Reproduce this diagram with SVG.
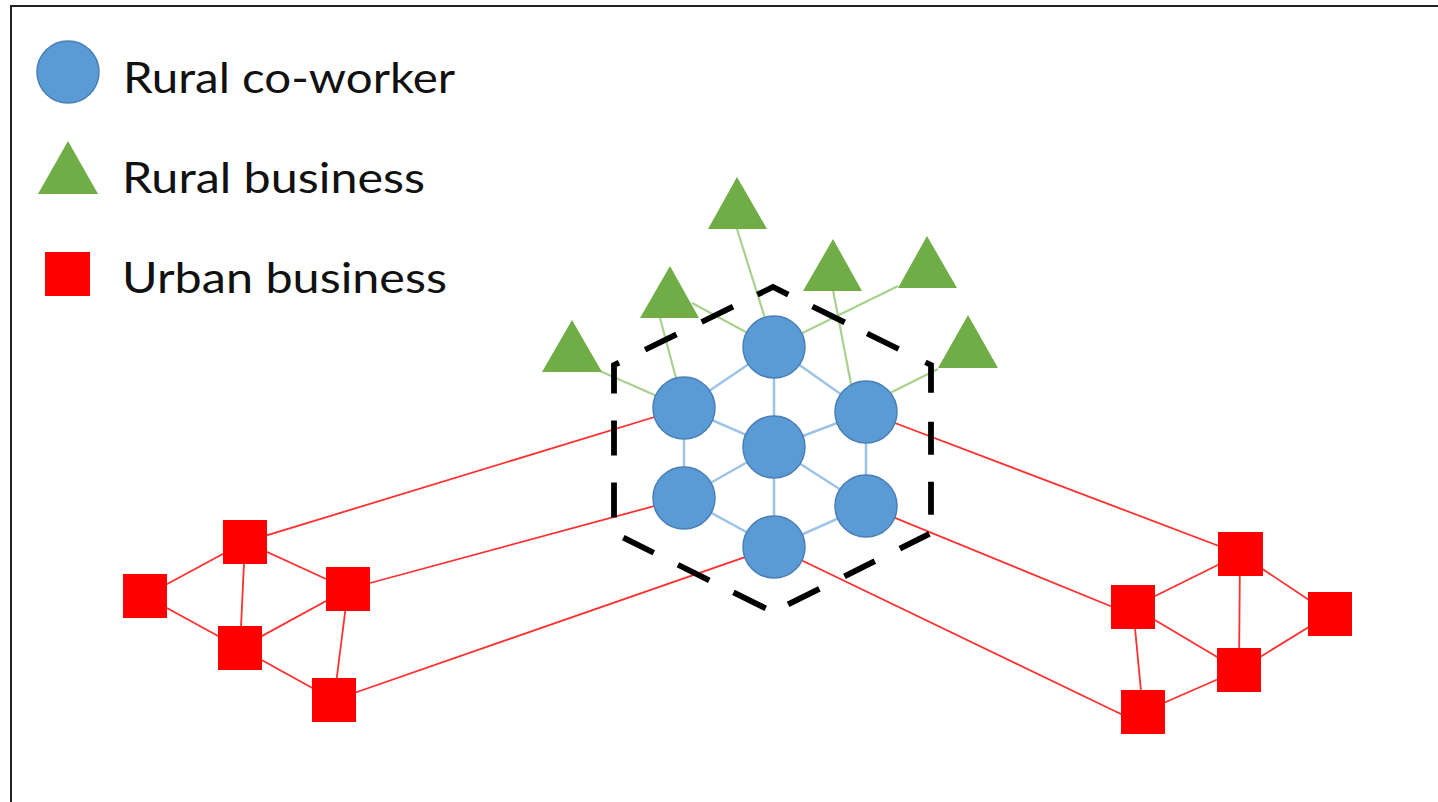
<svg xmlns="http://www.w3.org/2000/svg" width="1438" height="802" viewBox="0 0 1438 802">
  <style>
    .label { font-family: Lato, "Liberation Sans", sans-serif; font-size: 43px; fill: #111; }
    .worker { fill: #5b9bd5; stroke: #4a7fb5; stroke-width: 1.5; }
    .rural { fill: #70ad47; }
    .urban { fill: #ff0000; }
    .link-blue { stroke: #9dc3e6; stroke-width: 2.5; fill: none; }
    .link-green { stroke: #a9d18e; stroke-width: 2.2; fill: none; }
    .link-red { stroke: #ff3030; stroke-width: 1.8; fill: none; }
    .cluster { fill: none; stroke: #000; stroke-width: 5.8; stroke-linejoin: miter;
      stroke-dasharray: 0 14 34.4 27 36 25 35 30 34 29 33 27 33 20 33 28 34 28 35 25 36 27 35 27 34 26 35 27 35 27 34 29 35 28 35 13; }
  </style>

  <rect width="1438" height="802" fill="#fff"/>
  <!-- frame -->
  <path d="M11,802 V6 H1438" fill="none" stroke="#222" stroke-width="2"/>

  <!-- legend -->
  <g id="legend">
    <circle class="worker" cx="68" cy="72" r="31"/>
    <text class="label" x="123" y="93" textLength="332" lengthAdjust="spacingAndGlyphs">Rural co-worker</text>
    <polygon class="rural" points="68,141 98,194 38,194"/>
    <text class="label" x="122" y="193" textLength="303" lengthAdjust="spacingAndGlyphs">Rural business</text>
    <rect class="urban" x="45" y="252" width="45" height="44"/>
    <text class="label" x="122" y="293" textLength="325" lengthAdjust="spacingAndGlyphs">Urban business</text>
  </g>

  <!-- connectors -->
  <g id="connectors">
    <!-- co-worker mesh -->
    <g class="link-blue">
      <line x1="774" y1="347" x2="774" y2="447"/>
      <line x1="774" y1="347" x2="684" y2="408"/>
      <line x1="774" y1="347" x2="866" y2="412"/>
      <line x1="774" y1="447" x2="684" y2="408"/>
      <line x1="774" y1="447" x2="866" y2="412"/>
      <line x1="774" y1="447" x2="684" y2="498"/>
      <line x1="774" y1="447" x2="866" y2="506"/>
      <line x1="774" y1="447" x2="774" y2="547"/>
      <line x1="684" y1="408" x2="684" y2="498"/>
      <line x1="866" y1="412" x2="866" y2="506"/>
      <line x1="684" y1="498" x2="774" y2="547"/>
      <line x1="866" y1="506" x2="774" y2="547"/>
    </g>
    <!-- rural business links -->
    <g class="link-green">
      <line x1="737" y1="229" x2="774" y2="347"/>
      <line x1="660" y1="318" x2="684" y2="408"/>
      <line x1="692" y1="303" x2="774" y2="347"/>
      <line x1="600" y1="371" x2="684" y2="408"/>
      <line x1="833" y1="290" x2="856" y2="410"/>
      <line x1="898" y1="286" x2="774" y2="347"/>
      <line x1="938" y1="369" x2="866" y2="405"/>
    </g>
    <!-- urban business links -->
    <g class="link-red">
      <!-- left cluster -->
      <line x1="245" y1="542" x2="145" y2="596"/>
      <line x1="245" y1="542" x2="240" y2="648"/>
      <line x1="245" y1="542" x2="348" y2="589"/>
      <line x1="145" y1="596" x2="240" y2="648"/>
      <line x1="240" y1="648" x2="348" y2="589"/>
      <line x1="348" y1="589" x2="334" y2="700"/>
      <line x1="240" y1="648" x2="334" y2="700"/>
      <line x1="245" y1="542" x2="684" y2="408"/>
      <line x1="348" y1="589" x2="684" y2="498"/>
      <line x1="334" y1="700" x2="774" y2="547"/>
      <!-- right cluster -->
      <line x1="1240" y1="554" x2="1133" y2="607"/>
      <line x1="1240" y1="554" x2="1239" y2="670"/>
      <line x1="1240" y1="554" x2="1330" y2="614"/>
      <line x1="1133" y1="607" x2="1239" y2="670"/>
      <line x1="1133" y1="607" x2="1143" y2="712"/>
      <line x1="1239" y1="670" x2="1330" y2="614"/>
      <line x1="1239" y1="670" x2="1143" y2="712"/>
      <line x1="866" y1="412" x2="1240" y2="554"/>
      <line x1="866" y1="506" x2="1120" y2="610"/>
      <line x1="774" y1="547" x2="1125" y2="716"/>
    </g>
  </g>

  <!-- co-working cluster boundary, path begins part-way along the upper-left edge -->
  <path id="cluster" class="cluster" d="M744.8,300.8 L773,287 L931,365 L931,533 L773,612 L614,533 L614,365 Z"/>

  <!-- rural co-workers -->
  <g id="coworkers">
    <g id="cw-top"><circle class="worker" cx="774" cy="347" r="31"/></g>
    <g id="cw-upper-left"><circle class="worker" cx="684" cy="408" r="31"/></g>
    <g id="cw-center"><circle class="worker" cx="774" cy="447" r="31"/></g>
    <g id="cw-upper-right"><circle class="worker" cx="866" cy="412" r="31"/></g>
    <g id="cw-lower-left"><circle class="worker" cx="684" cy="498" r="31"/></g>
    <g id="cw-lower-right"><circle class="worker" cx="866" cy="506" r="31"/></g>
    <g id="cw-bottom"><circle class="worker" cx="774" cy="547" r="31"/></g>
  </g>

  <!-- rural businesses -->
  <g id="rural-businesses">
    <g id="rb-1"><polygon class="rural" points="737,177 767,229 708,229"/></g>
    <g id="rb-2"><polygon class="rural" points="670,266 699,318 640,318"/></g>
    <g id="rb-3"><polygon class="rural" points="572,320 602,372 542,372"/></g>
    <g id="rb-4"><polygon class="rural" points="833,239 862,291 803,291"/></g>
    <g id="rb-5"><polygon class="rural" points="927,236 957,288 898,288"/></g>
    <g id="rb-6"><polygon class="rural" points="968,315 998,368 938,368"/></g>
  </g>

  <!-- urban businesses -->
  <g id="urban-businesses">
    <g id="ub-l1"><rect class="urban" x="223" y="520" width="44" height="44"/></g>
    <g id="ub-l2"><rect class="urban" x="123" y="574" width="44" height="44"/></g>
    <g id="ub-l3"><rect class="urban" x="326" y="567" width="44" height="44"/></g>
    <g id="ub-l4"><rect class="urban" x="218" y="626" width="44" height="44"/></g>
    <g id="ub-l5"><rect class="urban" x="312" y="678" width="44" height="44"/></g>
    <g id="ub-r1"><rect class="urban" x="1218" y="532" width="45" height="44"/></g>
    <g id="ub-r2"><rect class="urban" x="1111" y="585" width="44" height="44"/></g>
    <g id="ub-r3"><rect class="urban" x="1308" y="592" width="44" height="44"/></g>
    <g id="ub-r4"><rect class="urban" x="1217" y="648" width="44" height="44"/></g>
    <g id="ub-r5"><rect class="urban" x="1121" y="690" width="44" height="44"/></g>
  </g>
</svg>
